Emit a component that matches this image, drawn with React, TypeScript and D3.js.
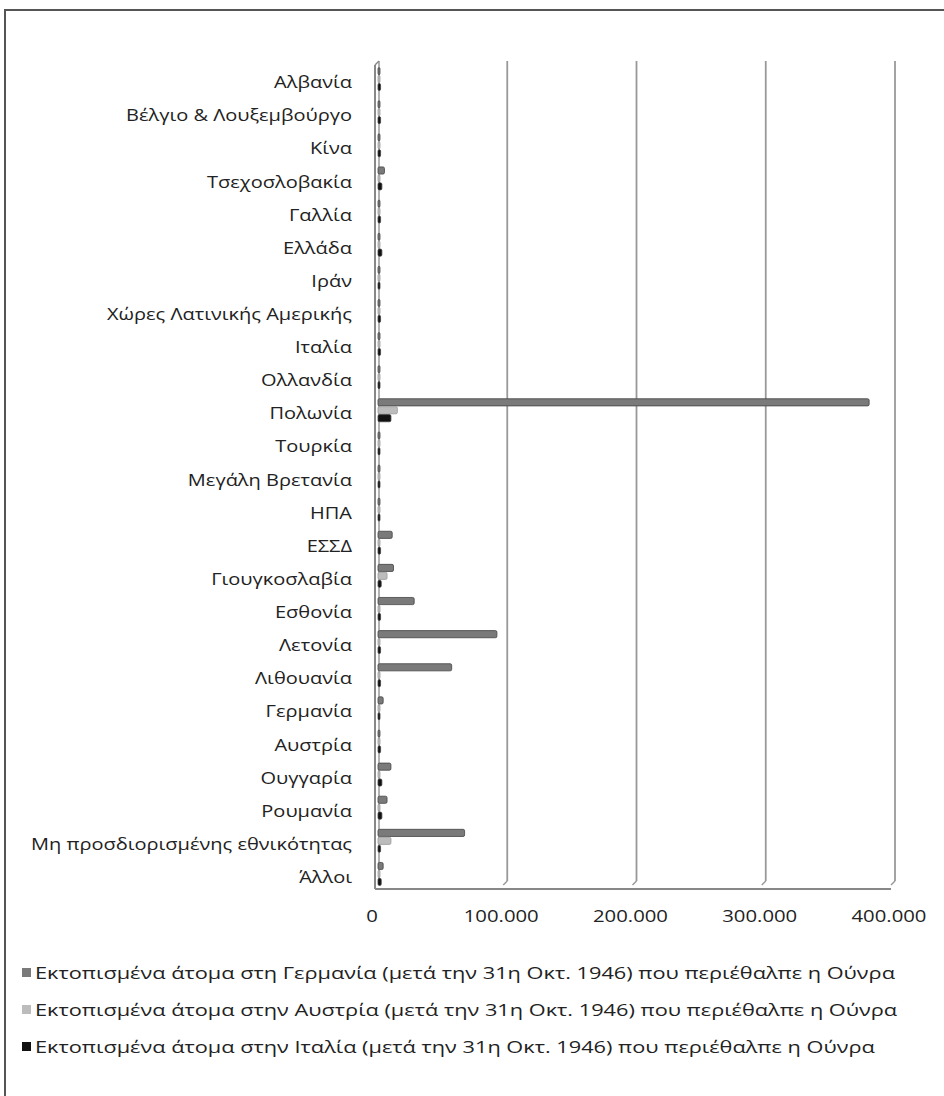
import React from "react";
import * as d3 from "d3";

const categories = [
  "Αλβανία", "Βέλγιο & Λουξεμβούργο", "Κίνα", "Τσεχοσλοβακία", "Γαλλία", "Ελλάδα", "Ιράν",
  "Χώρες Λατινικής Αμερικής", "Ιταλία", "Ολλανδία", "Πολωνία", "Τουρκία", "Μεγάλη Βρετανία",
  "ΗΠΑ", "ΕΣΣΔ", "Γιουγκοσλαβία", "Εσθονία", "Λετονία", "Λιθουανία", "Γερμανία", "Αυστρία",
  "Ουγγαρία", "Ρουμανία", "Μη προσδιορισμένης εθνικότητας", "Άλλοι",
];

const germany = [1000, 600, 500, 5000, 1200, 1000, 500, 400, 1000, 800, 380000, 600, 400, 400, 11000, 12000, 28000, 92000, 57000, 4000, 1500, 10000, 7000, 67000, 4000];
const austria = [500, 300, 200, 1500, 500, 400, 300, 200, 800, 400, 15000, 400, 300, 200, 1000, 7000, 1000, 1500, 1000, 1200, 1500, 1500, 1000, 10000, 1000];
const italy = [2000, 2000, 2000, 3000, 2000, 3000, 1500, 2000, 2000, 1500, 10000, 1500, 1500, 1500, 2000, 2500, 2000, 2000, 2000, 1500, 2000, 3000, 3000, 2000, 2500];

const seriesNames = [
  "Εκτοπισμένα άτομα στη Γερμανία (μετά την 31η Οκτ. 1946) που περιέθαλπε η Ούνρα",
  "Εκτοπισμένα άτομα στην Αυστρία (μετά την 31η Οκτ. 1946) που περιέθαλπε η Ούνρα",
  "Εκτοπισμένα άτομα στην Ιταλία (μετά την 31η Οκτ. 1946) που περιέθαλπε η Ούνρα",
];
const seriesValues = [germany, austria, italy];
const colors = ["#7a7a7a", "#bcbcbc", "#111111"];
const xTicks = [0, 100000, 200000, 300000, 400000];

const font = "'Open Sans', sans-serif";

export default function App() {
  const W = 944, H = 1096;
  const x = d3.scaleLinear().domain([0, 400000]).range([378, 895]);
  const y = d3.scaleBand().domain(categories).range([66, 894]);
  const sub = d3.scaleBand().domain(["0", "1", "2"]).range([-15, 8]).paddingInner(0.1);
  const fmt = (v: number) => d3.format(",")(v).replace(/,/g, ".");
  const top = 61, floor = 885;

  return (
    <svg width={W} height={H} style={{ position: "absolute", left: 0, top: 0, background: "#fff" }}>
      <rect x={5} y={10} width={W + 10} height={H + 10} fill="#fff" stroke="#555" strokeWidth={2} />
      {/* gridlines */}
      {xTicks.slice(1).map((t) => (
        <g key={t}>
          <line x1={x(t)} x2={x(t)} y1={top} y2={floor - 4} stroke="#999" strokeWidth={1.8} />
          <line x1={x(t)} x2={x(t) - 4} y1={floor - 4} y2={floor} stroke="#999" strokeWidth={1.5} />
        </g>
      ))}
      {/* left wall */}
      <line x1={375} x2={375} y1={top + 4} y2={floor + 4} stroke="#888" strokeWidth={2} />
      <line x1={379} x2={379} y1={top} y2={floor} stroke="#999" strokeWidth={1.5} />
      <line x1={375} x2={379} y1={top + 4} y2={top} stroke="#888" strokeWidth={1.5} />
      {/* floor */}
      <line x1={375} x2={x(400000) - 4} y1={floor + 4} y2={floor + 4} stroke="#888" strokeWidth={2} />
      {/* bars */}
      {seriesValues.map((vals, si) =>
        vals.map((v, i) => {
          const yy = (y(categories[i]) as number) + y.bandwidth() / 2 + (sub(String(si)) as number);
          return (
            <rect
              key={si + "-" + i}
              x={x(0)}
              y={yy}
              width={Math.max(2, x(v) - x(0))}
              height={sub.bandwidth()}
              rx={1.5}
              fill={colors[si]}
              stroke={si === 1 ? "#999" : "#444"}
              strokeWidth={0.8}
            />
          );
        })
      )}
      {/* category labels */}
      {categories.map((c) => (
        <text
          key={c}
          transform={`translate(352, ${(y(c) as number) + y.bandwidth() / 2}) scale(1.25, 1)`}
          dy="0.35em"
          textAnchor="end"
          fontFamily={font}
          fontSize={16}
          fill="#222"
        >
          {c}
        </text>
      ))}
      {/* x tick labels */}
      {xTicks.map((t) => (
        <text
          key={t}
          transform={`translate(${x(t) - 6}, 916) scale(1.27, 1)`}
          dy="0.35em"
          textAnchor="middle"
          fontFamily={font}
          fontSize={16}
          fill="#222"
        >
          {fmt(t)}
        </text>
      ))}
      {/* legend */}
      {seriesNames.map((n, i) => (
        <g key={n} transform={`translate(22, ${973 + i * 37})`}>
          <rect x={0} y={-5} width={9} height={9} fill={colors[i]} />
          <text transform="translate(13, 0) scale(1.36, 1)" dy="0.35em" fontFamily={font} fontSize={16} fill="#222">
            {n}
          </text>
        </g>
      ))}
    </svg>
  );
}
